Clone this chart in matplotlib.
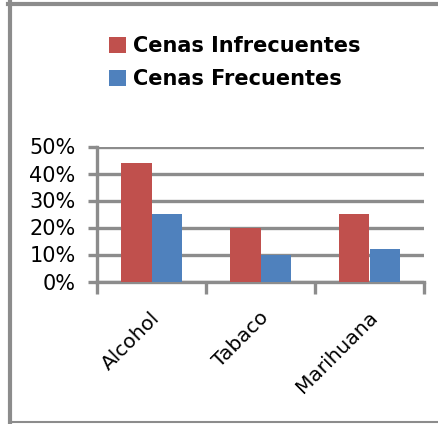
import matplotlib
matplotlib.use("Agg")
import matplotlib.pyplot as plt
import matplotlib.transforms as mtransforms
from matplotlib.lines import Line2D
from matplotlib.ticker import PercentFormatter
import numpy as np

# datos
categorias = ["Alcohol", "Tabaco", "Marihuana"]
infrecuentes = [0.44, 0.20, 0.25]
frecuentes = [0.25, 0.10, 0.12]
series = ["Cenas Infrecuentes", "Cenas Frecuentes"]

rojo = "#C0504D"
azul = "#4F81BD"
gris = "#8C8C8C"

plt.rcParams["font.family"] = ["DejaVu Sans"]

W, H = 438, 424
fig = plt.figure(figsize=(W / 100, H / 100), dpi=100)
ax = fig.add_axes([97 / W, 1 - 281.5 / H, (424 - 97) / W, (281.5 - 146.5) / H])

x = np.arange(len(categorias))
ancho = 0.28
b1 = ax.bar(x - ancho / 2, infrecuentes, ancho, color=rojo, zorder=3)
b2 = ax.bar(x + ancho / 2, frecuentes, ancho, color=azul, zorder=3)

ax.set_xlim(-0.5, len(categorias) - 0.5)
ax.set_ylim(0, 0.5)
ax.set_yticks(np.arange(0, 0.51, 0.1))
ax.yaxis.set_major_formatter(PercentFormatter(1.0, decimals=0))
ax.grid(axis="y", color=gris, linewidth=2.4, zorder=0)

for s in ["top", "right"]:
    ax.spines[s].set_visible(False)
for s in ["left", "bottom"]:
    ax.spines[s].set_color(gris)
    ax.spines[s].set_linewidth(2.4)

# marcas en los limites de categoria, etiquetas en el centro
ax.set_xticks(np.arange(-0.5, len(categorias), 1.0))
ax.set_xticklabels([])
ax.set_xticks(x, minor=True)
ax.set_xticklabels(categorias, minor=True, rotation=45, ha="right", va="center",
                   rotation_mode="anchor", fontsize=14.5)
ax.tick_params(axis="x", which="major", length=8.5, width=2.4, color=gris)
ax.tick_params(axis="x", which="minor", length=0, pad=24)
ax.tick_params(axis="y", length=6.5, width=2.4, color=gris, labelsize=15, pad=9)

off = mtransforms.ScaledTranslation(5 / 100, 0, fig.dpi_scale_trans)
for lbl in ax.get_xticklabels(minor=True):
    lbl.set_transform(lbl.get_transform() + off)

fig.legend([b1, b2], series, loc="upper left", bbox_to_anchor=(109 / W, 1 - 36 / H),
           frameon=False, prop={"weight": "bold", "size": 15}, borderpad=0,
           borderaxespad=0, handlelength=0.8, handleheight=0.8,
           handletextpad=0.35, labelspacing=0.62)

# marco del grafico
fig.add_artist(Line2D([8 / W, 1], [1 - 4 / H, 1 - 4 / H], transform=fig.transFigure,
                      color=gris, linewidth=3))
fig.add_artist(Line2D([10 / W, 10 / W], [1 - 2 / H, 0], transform=fig.transFigure,
                      color=gris, linewidth=3))
fig.add_artist(Line2D([10 / W, 1], [1 - 422 / H, 1 - 422 / H], transform=fig.transFigure,
                      color=gris, linewidth=1.5))

fig.savefig("out.png", dpi=100)
